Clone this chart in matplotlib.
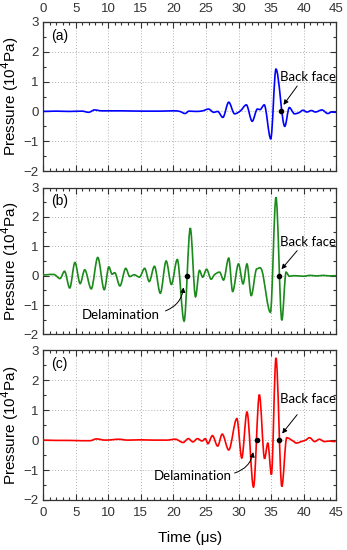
import matplotlib
matplotlib.use("Agg")
import matplotlib.pyplot as plt
from matplotlib.ticker import MultipleLocator
from matplotlib.path import Path
from matplotlib.patches import PathPatch

# ---------------- data ----------------
time_a = [0, 2, 4, 6, 7.0, 7.9, 9, 12, 15, 18, 20, 21, 21.8, 22.4, 23.5, 24.5, 25.4,
          26.2, 26.8, 27.6, 28.5, 29.4, 30.3, 31.2, 32.1, 32.9, 33.3, 33.95, 34.95,
          35.75, 37.1, 37.8, 38.6, 39.3, 39.9, 40.5, 41.2, 41.8, 42.8, 43.7,
          44.3, 45]
pres_a = [0, 0.01, 0, 0.01, -0.03, 0.05, 0.02, 0.02, 0.01, 0.01, 0.02, 0.0, -0.07,
          0.01, 0, 0.02, 0.08, -0.03, 0.0, -0.2, 0.31, -0.08, 0.02, 0.22, -0.33, 0.08,
          0.06, 0.22, -0.92, 1.42, -0.5, 0.13, -0.08, -0.04, 0.04, -0.02, 0.03,
          -0.02, 0.05, -0.07, -0.02, -0.03]

time_b = [0, 1, 1.8, 2.6, 3.3, 4.1, 4.9, 5.7, 6.4, 7.4, 8.4, 9.4, 10.1, 10.6, 11.0,
          11.8, 12.7, 13.3, 14.0, 14.8, 15.6, 16.3, 17.1, 18.0, 18.9, 19.7, 20.6,
          21.65, 22.6, 23.4, 24.0, 24.5, 25.1, 25.8, 26.3, 27.1, 27.7, 28.5,
          29.1, 30.0, 30.7, 31.3, 31.95, 32.8, 33.6, 34.9, 35.75, 36.65, 37.3,
          37.8, 38.5, 40, 41, 42, 43, 44, 45]
pres_b = [0.02, 0.04, 0.03, -0.1, 0.15, -0.42, 0.45, -0.27, 0.2, -0.45, 0.62, -0.48,
          0.3, 0.05, 0.1, -0.35, 0.25, -0.03, 0.03, -0.05, 0.25, -0.2, 0.32, -0.6,
          0.5, -0.3, 0.55, -1.55, 1.62, -0.72, 0.18, -0.05, 0.22, -0.12, 0.03,
          0.12, -0.15, 0.6, -0.54, 0.4, -0.28, 0.4, -0.68, 0.23, 0.17, -1.25, 2.67,
          -1.52, 0.12, -0.02, 0.0, -0.02, 0.01, -0.01, 0.01, -0.01, 0.0]

time_c = [0, 2, 4, 6, 7.2, 8.2, 9.5, 10.5, 11.5, 13, 15, 17, 19, 20.3, 21.5, 22.3,
          23.0, 23.7, 24.4, 24.9, 25.3, 26.0, 26.8, 27.5, 28.5, 29.75, 30.5, 31.3,
          32.3, 33.2, 34.0, 34.5, 35.05, 35.75, 36.65, 37.4, 38.3, 38.9,
          39.6, 40.3, 40.9, 41.7, 42.4, 43.2, 44.0, 44.7, 45]
pres_c = [0, -0.01, -0.01, -0.02, -0.02, 0.04, 0.0, 0.01, 0.03, 0.0, 0.01, 0.0, 0.0,
          0.03, -0.08, 0.05, -0.06, 0.05, -0.03, 0.05, -0.12, 0.15, -0.2, 0.2, -0.33,
          0.72, -0.6, 0.94, -1.57, 1.52, -0.62, -0.1, -1.15, 2.75, -1.55,
          0.08, -0.02, -0.1, -0.05, 0.0, 0.08, -0.05, 0.03, -0.05, -0.03, -0.05, -0.02]

panel_labels = ["(a)", "(b)", "(c)"]
colors = ["#0000ff", "#1a8a1a", "#ff0000"]
backface_time = [36.45, 36.15, 36.25]
delam_time = [None, 22.1, 32.8]
xticks = [0, 5, 10, 15, 20, 25, 30, 35, 40, 45]
yticks = [-2, -1, 0, 1, 2, 3]

series_t = [time_a, time_b, time_c]
series_p = [pres_a, pres_b, pres_c]


def smooth_path(t, p):
    """Cubic Bezier path through the read points (flat tangents at extrema)."""
    n = len(t)
    slopes = []
    for k in range(n):
        if k == 0 or k == n - 1:
            slopes.append(0.0)
            continue
        d1 = p[k] - p[k - 1]
        d2 = p[k + 1] - p[k]
        if d1 * d2 <= 0:
            slopes.append(0.0)
        else:
            slopes.append((p[k + 1] - p[k - 1]) / (t[k + 1] - t[k - 1]))
    verts = [(t[0], p[0])]
    codes = [Path.MOVETO]
    for k in range(n - 1):
        dt = t[k + 1] - t[k]
        verts += [(t[k] + dt / 3, p[k] + slopes[k] * dt / 3),
                  (t[k + 1] - dt / 3, p[k + 1] - slopes[k + 1] * dt / 3),
                  (t[k + 1], p[k + 1])]
        codes += [Path.CURVE4] * 3
    return Path(verts, codes)


# ---------------- figure ----------------
fig = plt.figure(figsize=(3.47, 5.5), dpi=100)
rects = [
    [0.124, 0.689, 0.845, 0.271],
    [0.124, 0.392, 0.845, 0.267],
    [0.124, 0.091, 0.845, 0.272],
]
tick_font = dict(family="Liberation Sans", size=9.5)
ann_font = ["Lato", "DejaVu Sans"]

for i, r in enumerate(rects):
    ax = fig.add_axes(r)
    patch = PathPatch(smooth_path(series_t[i], series_p[i]), facecolor="none",
                      edgecolor=colors[i], lw=1.2, zorder=3, transform=ax.transData)
    ax.add_patch(patch)
    ax.set_xlim(0, 45)
    ax.set_ylim(-2, 3)
    ax.set_xticks(xticks)
    ax.set_yticks(yticks)
    ax.xaxis.set_minor_locator(MultipleLocator(1))
    ax.yaxis.set_minor_locator(MultipleLocator(0.5))
    ax.grid(True, which="major", ls=(0, (1, 2)), color="#b0b0b0", lw=0.7, zorder=0)
    ax.tick_params(which="both", direction="in", top=True, right=True,
                   colors="#333333", width=0.8, pad=3)
    ax.tick_params(axis="x", which="major", pad=5)
    ax.tick_params(which="major", length=4)
    ax.tick_params(which="minor", length=2.5)
    for s in ax.spines.values():
        s.set_color("#333333")
        s.set_linewidth(0.9)
    ax.set_yticklabels([str(v).replace("-", "\u2212") for v in yticks], **tick_font)
    if i == 0:
        ax.tick_params(labeltop=True, labelbottom=False)
        ax.set_xticklabels([str(v) for v in xticks], **tick_font)
    elif i == 1:
        ax.tick_params(labelbottom=False)
    else:
        ax.set_xticklabels([str(v) for v in xticks], **tick_font)
        ax.set_xlabel("Time (\u03bcs)", family="Liberation Sans", size=11, labelpad=9)
    ax.set_ylabel("Pressure (10$^4$Pa)", family="Liberation Sans", size=11, labelpad=2)

    ax.text(1.3, 2.53, panel_labels[i], family="Liberation Sans", size=10,
            va="center", ha="left")

    # back face marker and annotation
    ax.plot([backface_time[i]], [0], "o", color="black", ms=3, zorder=4)
    ytxt = [1.16, 1.16, 1.36][i]
    ax.text(36.3, ytxt, "Back face", family=ann_font, size=9.5, va="center", ha="left",
            zorder=5)
    ax.annotate("", xy=(backface_time[i] + 0.45, 0.22), xytext=(39.0, 0.85),
                arrowprops=dict(arrowstyle="-|>", color="black", lw=0.7,
                                mutation_scale=7, shrinkA=0, shrinkB=0), zorder=5)
    if delam_time[i] is not None:
        ax.plot([delam_time[i]], [0], "o", color="black", ms=3, zorder=4)
        if i == 1:
            txt_x, txt_y = 6.0, -1.33
            start = (18.8, -1.2)
        else:
            txt_x, txt_y = 17.0, -1.2
            start = (29.4, -1.1)
        ax.text(txt_x, txt_y, "Delamination", family=ann_font, size=9.5,
                va="center", ha="left", zorder=5)
        ax.annotate("", xy=(delam_time[i] - 0.55, -0.4), xytext=start,
                    arrowprops=dict(arrowstyle="-|>", color="black", lw=0.7,
                                    mutation_scale=7, shrinkA=0, shrinkB=0,
                                    connectionstyle="arc3,rad=0.3"), zorder=5)

fig.savefig("out.png", dpi=100)
